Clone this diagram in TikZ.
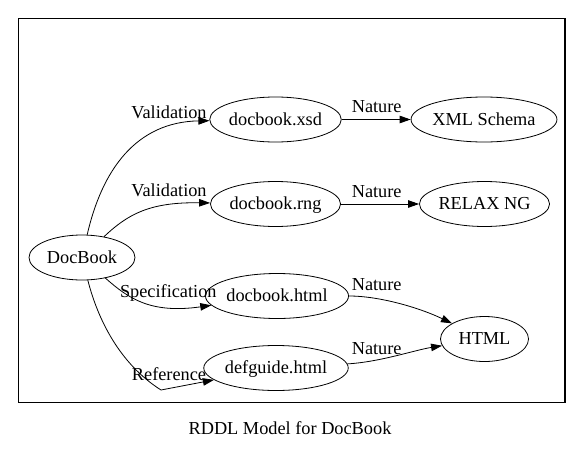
\documentclass[tikz,border=0pt]{standalone}
\usepackage{fontspec}
\setmainfont{Liberation Serif}
\usetikzlibrary{shapes.geometric,arrows.meta}
\begin{document}
\begin{tikzpicture}[x=1pt,y=-1pt,
  every node/.style={font=\fontsize{18.3}{20}\selectfont},
  nd/.style={draw,ellipse,line width=0.8pt,inner sep=0pt,text height=11pt,text depth=0pt,minimum height=45pt},
  lbl/.style={anchor=base,inner sep=0pt},
  conn/.style={draw,line width=0.8pt,-{Triangle[length=11pt,width=7.5pt]}}]
\useasboundingbox (0,0) rectangle (583,452);
\draw[line width=1.3pt] (18.3,18.3) rectangle (565,402.3);
% nodes
\node[nd,minimum width=106pt] (doc) at (82,257.5) {DocBook};
\node[nd,minimum width=131pt] (xsd) at (275.5,119.5) {docbook.xsd};
\node[nd,minimum width=138pt] (xml) at (484,119.5) {XML Schema};
\node[nd,minimum width=128pt] (rng) at (275.5,204) {docbook.rng};
\node[nd,minimum width=128pt] (relax) at (484.5,204) {RELAX NG};
\node[nd,minimum width=138pt] (dhtml) at (277,296) {docbook.html};
\node[nd,minimum width=88pt] (html) at (484.5,339) {HTML};
\node[nd,minimum width=138pt] (def) at (276,368) {defguide.html};
% connectors
\coordinate (r1) at (161,390);
\draw[conn] (doc) .. controls (102,170) and (136,122) .. (xsd);
\draw[conn] (doc) .. controls (128,214) and (150,202) .. (rng);
\draw[conn] (doc) .. controls (128,298) and (150,314) .. (dhtml);
\draw[conn] (doc) .. controls (98,320) and (120,364) .. (r1) -- (def);
\draw[conn] (xsd) -- (xml);
\draw[conn] (rng) -- (relax);
\draw[conn] (dhtml) .. controls (380,296) and (420,308) .. (html);
\draw[conn] (def) .. controls (380,362) and (415,350) .. (html);
% labels
\node[lbl] (l1) at (169,118.3) {Validation};
\node[lbl] (l2) at (169,196.7) {Validation};
\node[lbl] (l3) at (168.3,297.3) {Specification};
\node[lbl] (l4) at (169,380) {Reference};
\node[lbl] (n1) at (376.7,112.7) {Nature};
\node[lbl] (n2) at (376.7,197.3) {Nature};
\node[lbl] (n3) at (376.7,290) {Nature};
\node[lbl] (n4) at (376.7,354) {Nature};
\node[lbl] (cap) at (290,434.3) {RDDL Model for DocBook};
\end{tikzpicture}
\end{document}
